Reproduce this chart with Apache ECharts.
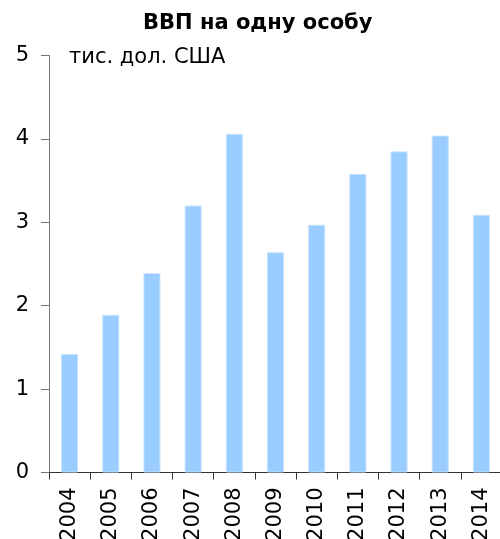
<!DOCTYPE html>
<html>
<head>
<meta charset="utf-8">
<title>ВВП на одну особу</title>
<script src="https://cdn.jsdelivr.net/npm/echarts@6/dist/echarts.min.js"></script>
<style>
  html, body { margin: 0; padding: 0; background: #fff; }
  #chart { width: 500px; height: 539px; }
</style>
</head>
<body>
<div id="chart"></div>
<script>
// years and GDP per capita, thousand USD
const years = ['2004', '2005', '2006', '2007', '2008', '2009', '2010', '2011', '2012', '2013', '2014']
const gdpValues = [1.42, 1.89, 2.39, 3.20, 4.06, 2.64, 2.97, 3.58, 3.85, 4.04, 3.09]
const yTicks = [0, 1, 2, 3, 4, 5]

const chart = echarts.init(document.getElementById('chart'))
const font = 'DejaVu Sans, Verdana, sans-serif'

const option = {
  animation: false,
  title: {
    text: 'ВВП на одну особу',
    left: 138,
    top: 8,
    textStyle: { fontFamily: font, fontSize: 21, fontWeight: 'bold', color: '#000' }
  },
  graphic: [{
    type: 'text',
    left: 69,
    top: 47,
    style: { text: 'тис. дол. США', fontFamily: font, fontSize: 21, fill: '#000' }
  }],
  grid: { left: 49, top: 55.5, width: 453, bottom: 66.5, containLabel: false, outerBoundsMode: 'none' },
  xAxis: {
    type: 'category',
    data: years,
    axisLine: { lineStyle: { color: '#333', width: 1 } },
    axisTick: { show: true, length: 7, alignWithLabel: false, lineStyle: { color: '#333' } },
    axisLabel: { rotate: 90, margin: 15, fontFamily: font, fontSize: 21, color: '#000' }
  },
  yAxis: {
    type: 'value',
    min: yTicks[0],
    max: yTicks[yTicks.length - 1],
    interval: 1,
    splitLine: { show: false },
    axisLine: { show: true, lineStyle: { color: '#777', width: 1 } },
    axisTick: { show: true, length: 8, lineStyle: { color: '#777' } },
    axisLabel: { margin: 20, fontFamily: font, fontSize: 21, color: '#000' }
  },
  series: [{
    type: 'bar',
    data: gdpValues,
    barWidth: 17,
    itemStyle: { color: '#99ccff', borderColor: '#c4e1ff', borderWidth: 1 }
  }]
}

chart.setOption(option)
</script>
</body>
</html>
